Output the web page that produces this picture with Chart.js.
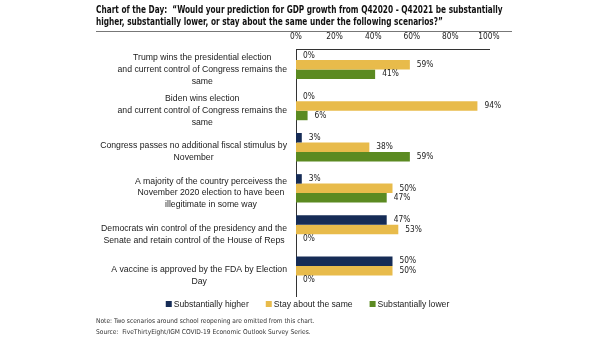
<!DOCTYPE html>
<html>
<head>
<meta charset="utf-8">
<script src="https://cdn.jsdelivr.net/npm/chart.js@4/dist/chart.umd.min.js"></script>
<style>
  body { margin: 0; background: #fff; }
  #wrap { position: relative; width: 605px; height: 341px; }
  #title {
    position: absolute; left: 96px; top: 4px; width: 416px;
    font-family: "DejaVu Sans Condensed", sans-serif;
    font-weight: bold; font-size: 9.6px; line-height: 12px; color: #111;
    border-bottom: 1px solid #777; padding-bottom: 3px; white-space: nowrap;
  }
  #title span { display: inline-block; transform: scaleX(0.855); transform-origin: left center; }
  #notes {
    position: absolute; left: 96px; top: 316px;
    font-family: "DejaVu Sans Condensed", sans-serif;
    font-size: 6.6px; line-height: 11px; color: #333; white-space: nowrap;
  }
  canvas { position: absolute; left: 0; top: 0; }
</style>
</head>
<body>
<div id="wrap">
  <canvas id="gdpChart" width="605" height="341"></canvas>
  <div id="title"><span>Chart of the Day:&nbsp; “Would your prediction for GDP growth from Q42020 - Q42021 be substantially</span><br><span>higher, substantially lower, or stay about the same under the following scenarios?”</span></div>
  <div id="notes">Note: Two scenarios around school reopening are omitted from this chart.<br>Source:&nbsp; FiveThirtyEight/IGM COVID-19 Economic Outlook Survey Series.</div>
</div>
<script>
var scenarios = [
    ['Trump wins the presidential election', 'and current control of Congress remains the', 'same'],
    ['Biden wins election', 'and current control of Congress remains the', 'same'],
    ['Congress passes no additional fiscal stimulus by', 'November'],
    ['A majority of the country perceivess the', 'November 2020 election to have been', 'illegitimate in some way'],
    ['Democrats win control of the presidency and the', 'Senate and retain control of the House of Reps'],
    ['A vaccine is approved by the FDA by Election', 'Day']
];
var seriesNames = ['Substantially higher', 'Stay about the same', 'Substantially lower'];
var higher = [0, 0, 3, 3, 47, 50];
var same = [59, 94, 38, 50, 53, 50];
var lower = [41, 6, 59, 47, 0, 0];
var xTicks = [0, 20, 40, 60, 80, 100];

var colors = ['#162c56', '#e8bb4b', '#5b8a21'];
var narrow = '"DejaVu Sans Condensed", sans-serif';
var sans = '"Liberation Sans", Arial, sans-serif';

// scenario text: each block right aligned against the axis, lines centred inside it
var scenarioLabels = {
    id: 'scenarioLabels',
    afterDraw: function (chart) {
        var ctx = chart.ctx;
        var y = chart.scales.y;
        ctx.save();
        ctx.font = '8.7px ' + sans;
        ctx.fillStyle = '#1a1a1a';
        ctx.textAlign = 'center';
        ctx.textBaseline = 'middle';
        chart.data.labels.forEach(function (lines, i) {
            var w = 0;
            lines.forEach(function (l) { w = Math.max(w, ctx.measureText(l).width); });
            var cx = 287 - w / 2;
            var cy = y.getPixelForValue(i);
            var lh = 11.8;
            lines.forEach(function (l, j) {
                ctx.fillText(l, cx, cy + (j - (lines.length - 1) / 2) * lh);
            });
        });
        ctx.restore();
    }
};

// percentage written just past the end of each bar
var valueLabels = {
    id: 'valueLabels',
    afterDatasetsDraw: function (chart) {
        var ctx = chart.ctx;
        ctx.save();
        ctx.font = '8.3px ' + narrow;
        ctx.fillStyle = '#1a1a1a';
        ctx.textAlign = 'left';
        ctx.textBaseline = 'middle';
        for (var d = 0; d < 3; d++) {
            var meta = chart.getDatasetMeta(d);
            meta.data.forEach(function (bar, i) {
                ctx.fillText(chart.data.datasets[d].data[i] + '%', bar.x + 7, bar.y);
            });
        }
        ctx.restore();
    }
};

// legend row under the plot
var legendRow = {
    id: 'legendRow',
    afterDraw: function (chart) {
        var ctx = chart.ctx;
        ctx.save();
        ctx.font = '8.6px ' + sans;
        ctx.textBaseline = 'middle';
        var gap = 17, box = 6, y = 304;
        var widths = seriesNames.map(function (n) { return box + 2 + ctx.measureText(n).width; });
        var total = widths.reduce(function (a, b) { return a + b; }, 0) + gap * (widths.length - 1);
        var x = 307.5 - total / 2;
        seriesNames.forEach(function (n, i) {
            ctx.fillStyle = colors[i];
            ctx.fillRect(x, y - box / 2, box, box);
            ctx.fillStyle = '#1a1a1a';
            ctx.fillText(n, x + box + 2, y + 0.5);
            x += widths[i] + gap;
        });
        ctx.restore();
    }
};

var ctx = document.getElementById('gdpChart').getContext('2d');
new Chart(ctx, {
    type: 'bar',
    data: {
        labels: scenarios,
        datasets: [
            { label: seriesNames[0], data: higher, backgroundColor: colors[0] },
            { label: seriesNames[1], data: same, backgroundColor: colors[1] },
            { label: seriesNames[2], data: lower, backgroundColor: colors[2] },
            // empty fourth series: keeps the three bars in the upper part of each band
            { label: '', data: [], backgroundColor: 'rgba(0,0,0,0)' }
        ]
    },
    options: {
        indexAxis: 'y',
        responsive: false,
        animation: false,
        layout: { padding: { left: 0, right: 116, top: 0, bottom: 45 } },
        datasets: { bar: { categoryPercentage: 0.92, barPercentage: 1.0 } },
        scales: {
            x: {
                position: 'top',
                min: 0,
                max: 100,
                afterBuildTicks: function (scale) {
                    scale.ticks = xTicks.map(function (v) { return { value: v }; });
                },
                afterFit: function (scale) { scale.height = 49; },
                ticks: {
                    padding: 7,
                    color: '#222',
                    font: { family: narrow, size: 8.3 },
                    callback: function (v) { return v + '%'; }
                },
                grid: { display: false, drawTicks: false },
                border: { display: true, color: '#333', width: 1 }
            },
            y: {
                afterFit: function (scale) { scale.width = 296; },
                ticks: { display: false },
                grid: { display: false, drawTicks: false },
                border: { display: true, color: '#333', width: 1 }
            }
        },
        plugins: {
            legend: { display: false },
            tooltip: { enabled: false }
        }
    },
    plugins: [scenarioLabels, valueLabels, legendRow]
});
</script>
</body>
</html>
